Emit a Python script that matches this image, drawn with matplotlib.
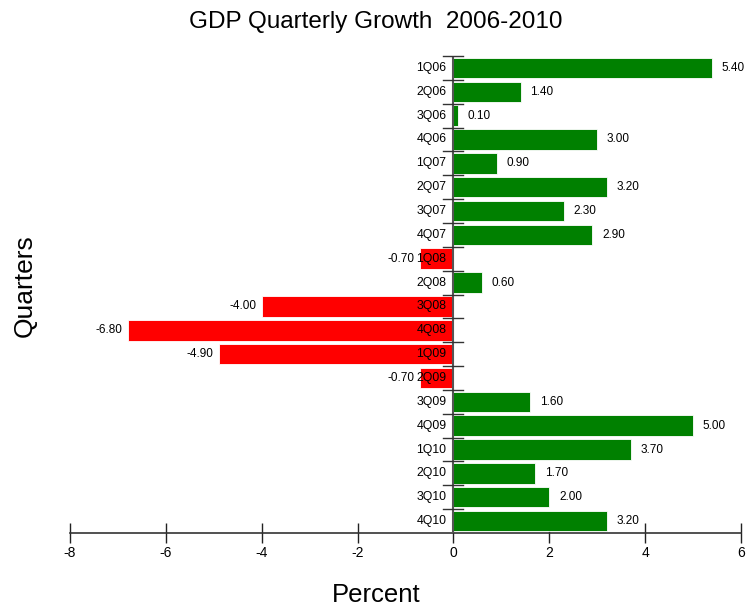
import matplotlib
matplotlib.use("Agg")
import matplotlib.pyplot as plt

quarters = ["1Q06", "2Q06", "3Q06", "4Q06", "1Q07", "2Q07", "3Q07", "4Q07",
            "1Q08", "2Q08", "3Q08", "4Q08", "1Q09", "2Q09", "3Q09", "4Q09",
            "1Q10", "2Q10", "3Q10", "4Q10"]
growth = [5.40, 1.40, 0.10, 3.00, 0.90, 3.20, 2.30, 2.90,
          -0.70, 0.60, -4.00, -6.80, -4.90, -0.70, 1.60, 5.00,
          3.70, 1.70, 2.00, 3.20]
xticks = [-8, -6, -4, -2, 0, 2, 4, 6]

plt.rcParams['font.family'] = ['Liberation Sans', 'DejaVu Sans']

fig = plt.figure(figsize=(7.46, 6.06), dpi=100)
ax = fig.add_axes([70/746, 1 - 533/606, 671/746, 477/606])

pos = list(range(len(quarters)))
colors = ['#008000' if v >= 0 else '#FF0000' for v in growth]
ax.barh(pos, growth, height=0.86, color=colors, edgecolor='white', linewidth=0.6, zorder=2)

ax.set_xlim(-8, 6)
ax.set_ylim(len(quarters) - 0.5, -0.5)

# zero line
ax.axvline(0, color='#555555', linewidth=1.5, zorder=3)
# row boundary tick marks
for i in range(len(quarters)):
    ax.plot([-0.21, 0.21], [i - 0.5, i - 0.5], color='#333333', linewidth=1.0, zorder=3,
            clip_on=False)

# category labels next to zero line
for i, q in enumerate(quarters):
    ax.annotate(q, xy=(0, i), xytext=(-5, 0), textcoords='offset points',
                ha='right', va='center', fontsize=8.8, zorder=4)

# value labels
for i, v in enumerate(growth):
    if v >= 0:
        ax.annotate(f"{v:.2f}", xy=(v, i), xytext=(7, 0), textcoords='offset points',
                    ha='left', va='center', fontsize=8.5)
    else:
        ax.annotate(f"{v:.2f}", xy=(v, i), xytext=(-4, 0), textcoords='offset points',
                    ha='right', va='center', fontsize=8.5)

for s in ['left', 'right', 'top']:
    ax.spines[s].set_visible(False)
ax.spines['bottom'].set_color('#333333')
ax.spines['bottom'].set_linewidth(1.2)
ax.set_yticks([])
ax.set_xticks(xticks)
ax.set_xticklabels([str(t) for t in xticks])
ax.tick_params(axis='x', direction='inout', length=15, width=1.0, color='#222222',
               labelsize=10, pad=2)

fig.text(376/746, 1 - 22/606, "GDP Quarterly Growth  2006-2010", ha='center', va='center',
         fontsize=17.5)
fig.text(25/746, 1 - 286/606, "Quarters", ha='center', va='center', rotation=90,
         fontsize=19)
fig.text(376/746, 1 - 595/606, "Percent", ha='center', va='center', fontsize=18.5)

fig.savefig("out.png", dpi=100)
